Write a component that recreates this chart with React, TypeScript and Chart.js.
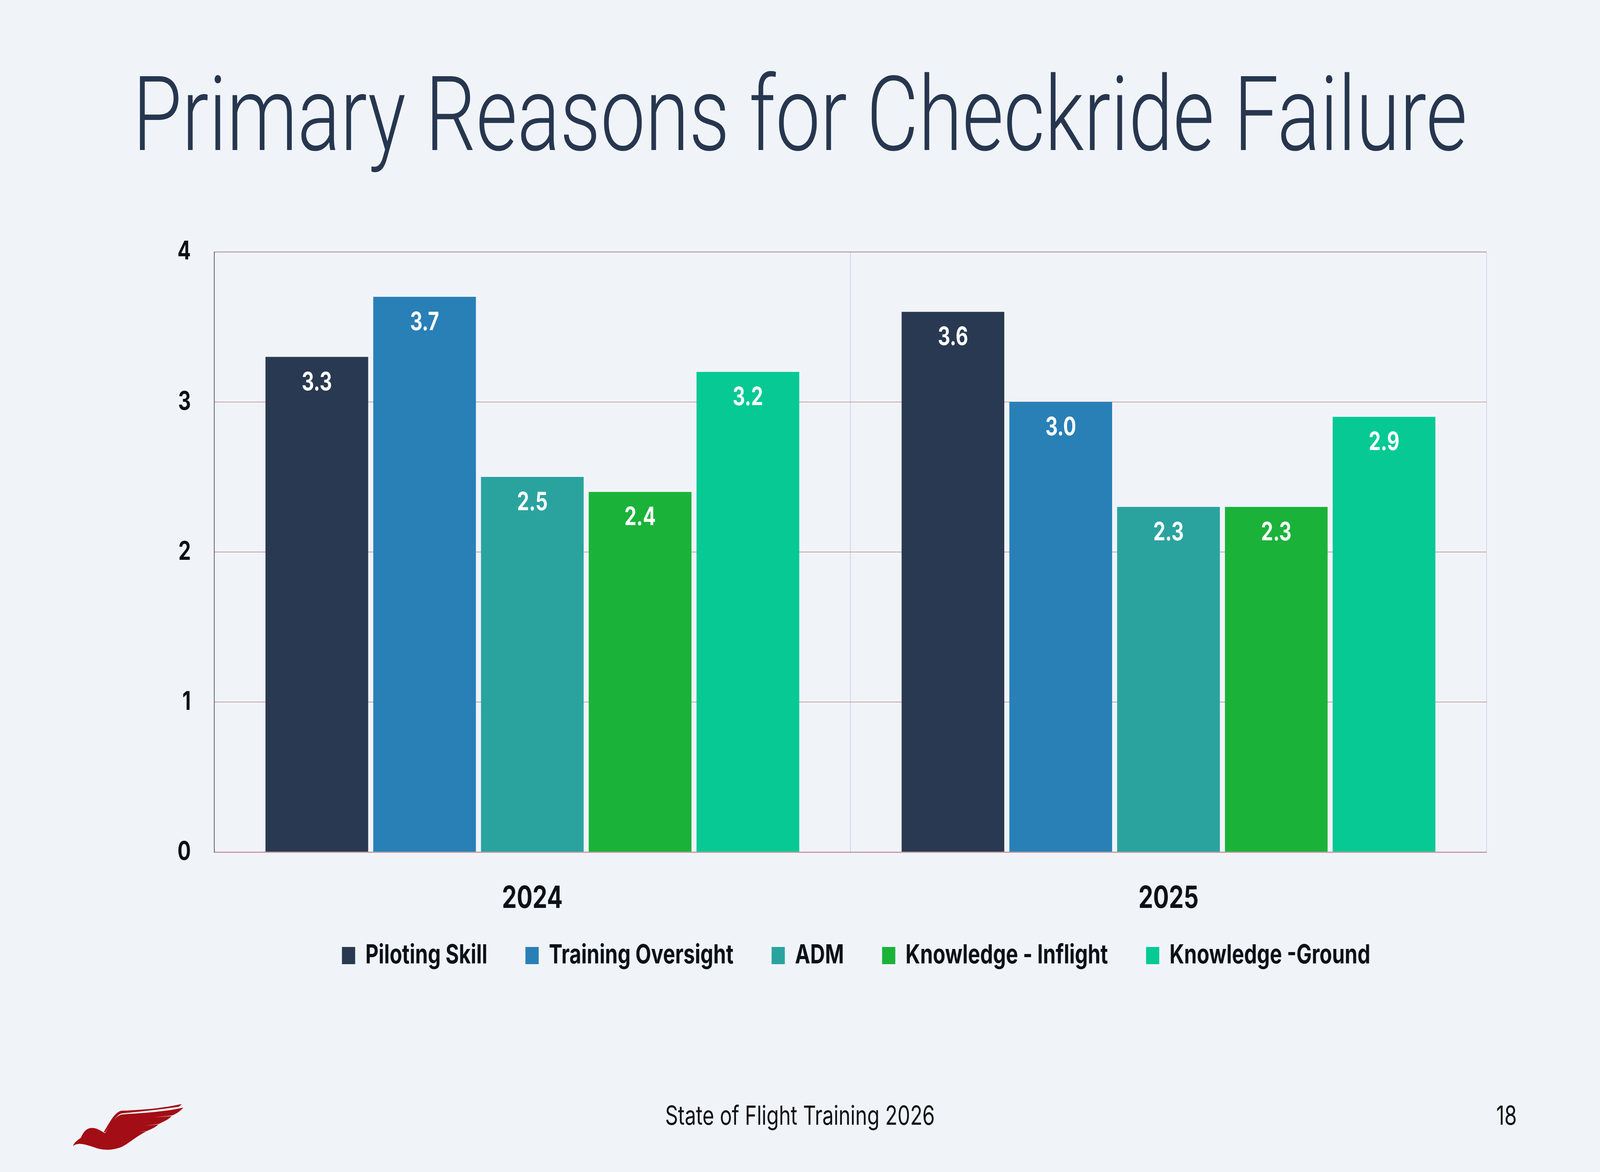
import React, { useEffect, useRef, useState } from "react";
import { Chart, registerables } from "chart.js";

Chart.register(...registerables);

const categories = ["2024", "2025"];
const seriesNames = [
  "Piloting Skill",
  "Training Oversight",
  "ADM",
  "Knowledge - Inflight",
  "Knowledge -Ground",
];
const pilotingSkill = [3.3, 3.6];
const trainingOversight = [3.7, 3.0];
const adm = [2.5, 2.3];
const knowledgeInflight = [2.4, 2.3];
const knowledgeGround = [3.2, 2.9];
const seriesColors = ["#293951", "#2980b6", "#2aa39f", "#1bb239", "#06c994"];
const yTicks = [0, 1, 2, 3, 4];

const STAGE_W = 5332;
const STAGE_H = 3000;
const BG = "#f0f4f9";
const BOLD_FONT = "Inter";
const TEXT_DARK = "#0b1117";
const X_AXIS_H = 200;
const LEGEND_SHIFT = 96;
const CANVAS_LEFT = 420;
const CANVAS_TOP = 527;
const CANVAS_W = 4866;
const CANVAS_H = 2059;

const valueLabelPlugin = {
  id: "valueLabels",
  afterDatasetsDraw(chart: any) {
    const ctx = chart.ctx;
    ctx.save();
    ctx.fillStyle = "#ffffff";
    ctx.font = `700 64px ${BOLD_FONT}`;
    ctx.textAlign = "center";
    ctx.textBaseline = "middle";
    chart.data.datasets.forEach((ds: any, i: number) => {
      const meta = chart.getDatasetMeta(i);
      meta.data.forEach((el: any, j: number) => {
        const v = ds.data[j];
        ctx.fillText(v.toFixed(1), el.x, el.y + 66);
      });
    });
    ctx.restore();
  },
};

const legendShiftPlugin = {
  id: "legendShift",
  afterLayout(chart: any) {
    if (chart.legend) {
      chart.legend.top -= LEGEND_SHIFT;
      chart.legend.bottom -= LEGEND_SHIFT;
    }
  },
};

function Logo() {
  return (
    <svg
      width={500}
      height={200}
      viewBox="0 0 1500 600"
      style={{ position: "absolute", left: 150, top: 2780 }}
    >
      <path
        fill="#a30d15"
        d="M280,462 C290,430 330,415 360,395 C380,360 410,322 470,322 C520,322 560,345 600,362 C650,300 700,228 770,218 C900,210 1200,200 1382,165 C1345,200 1305,215 1270,226 L1090,241 L1265,230 C1235,258 1195,268 1140,290 L995,306 L1135,294 C1100,320 1065,328 1020,345 L940,351 L1015,348 C930,378 850,432 780,462 C700,492 600,497 520,478 C440,458 380,440 330,445 C305,448 290,455 280,462 Z"
      />
      <path
        fill="#a30d15"
        d="M588,352 C640,290 690,205 760,190 C900,186 1150,176 1365,138 C1352,152 1342,158 1330,160 C1100,186 900,200 770,210 C720,216 680,272 600,357 Z"
      />
    </svg>
  );
}

export default function App() {
  const ref = useRef<HTMLCanvasElement | null>(null);
  const [scale] = useState(() => ({
    sx: (typeof window !== "undefined" ? window.innerWidth : STAGE_W) / STAGE_W,
    sy: (typeof window !== "undefined" ? window.innerHeight : STAGE_H) / STAGE_H,
  }));

  useEffect(() => {
    document.body.style.margin = "0";
    document.body.style.background = BG;
    document.body.style.overflow = "hidden";
    const values = [pilotingSkill, trainingOversight, adm, knowledgeInflight, knowledgeGround];
    const chart = new Chart(ref.current as HTMLCanvasElement, {
      type: "bar",
      data: {
        labels: categories,
        datasets: seriesNames.map((name, i) => ({
          label: name,
          data: values[i],
          backgroundColor: seriesColors[i],
          borderWidth: 0,
          categoryPercentage: 0.847,
          barPercentage: 0.953,
        })),
      },
      options: {
        animation: false,
        responsive: false,
        devicePixelRatio: 1,
        layout: { padding: { top: 0, right: 0, bottom: 0, left: 0 } },
        plugins: {
          tooltip: { enabled: false },
          legend: {
            position: "bottom",
            labels: {
              boxWidth: 44,
              boxHeight: 44,
              padding: 127,
              color: TEXT_DARK,
              font: { family: BOLD_FONT, weight: "bold", size: 68 },
            },
          },
        },
        scales: {
          x: {
            grid: { color: "#c8d0de", lineWidth: 2, drawTicks: false, offset: true },
            border: { color: "#c39aa0", width: 3 },
            ticks: {
              color: TEXT_DARK,
              padding: 73,
              font: { family: BOLD_FONT, weight: "bold", size: 78 },
            },
            afterFit: (s: any) => {
              s.height = X_AXIS_H;
            },
          },
          y: {
            min: 0,
            max: 4,
            afterBuildTicks: (s: any) => {
              s.ticks = yTicks.map((v) => ({ value: v }));
            },
            grid: {
              color: (c: any) => (c.tick && c.tick.value === 4 ? "#b5848a" : "#c9a0a6"),
              lineWidth: 2,
              drawTicks: false,
            },
            border: { color: "#1c2026", width: 2 },
            ticks: {
              color: TEXT_DARK,
              padding: 78,
              font: { family: BOLD_FONT, weight: "bold", size: 66 },
            },
            afterFit: (s: any) => {
              s.width = 294;
            },
          },
          yRightSpace: {
            type: "linear",
            position: "right",
            display: true,
            grid: { display: false, drawTicks: false },
            border: { display: false },
            ticks: { display: false },
            afterFit: (s: any) => {
              s.width = 332;
            },
          },
        },
      },
      plugins: [valueLabelPlugin, legendShiftPlugin],
    } as any);
    return () => chart.destroy();
  }, []);

  return (
    <div
      style={{
        position: "absolute",
        left: 0,
        top: 0,
        width: STAGE_W,
        height: STAGE_H,
        background: BG,
        overflow: "hidden",
        transformOrigin: "0 0",
        transform: `scale(${scale.sx}, ${scale.sy})`,
      }}
    >
      <div
        style={{
          position: "absolute",
          left: 0,
          width: STAGE_W,
          top: 128,
          textAlign: "center",
          fontFamily: "Roboto",
          fontWeight: 300,
          fontSize: 266,
          lineHeight: "330px",
          color: "#27364f",
          whiteSpace: "nowrap",
        }}
      >
        Primary Reasons for Checkride Failure
      </div>
      <canvas
        ref={ref}
        width={CANVAS_W}
        height={CANVAS_H}
        style={{
          position: "absolute",
          left: CANVAS_LEFT,
          top: CANVAS_TOP,
          width: CANVAS_W,
          height: CANVAS_H,
        }}
      />
      <div
        style={{
          position: "absolute",
          left: 0,
          width: STAGE_W,
          top: 2815,
          textAlign: "center",
          fontFamily: BOLD_FONT,
          fontWeight: 400,
          fontSize: 67,
          lineHeight: "80px",
          color: TEXT_DARK,
        }}
      >
        State of Flight Training 2026
      </div>
      <div
        style={{
          position: "absolute",
          left: 4986,
          top: 2815,
          fontFamily: BOLD_FONT,
          fontWeight: 400,
          fontSize: 67,
          lineHeight: "80px",
          color: TEXT_DARK,
        }}
      >
        18
      </div>
      <Logo />
    </div>
  );
}
